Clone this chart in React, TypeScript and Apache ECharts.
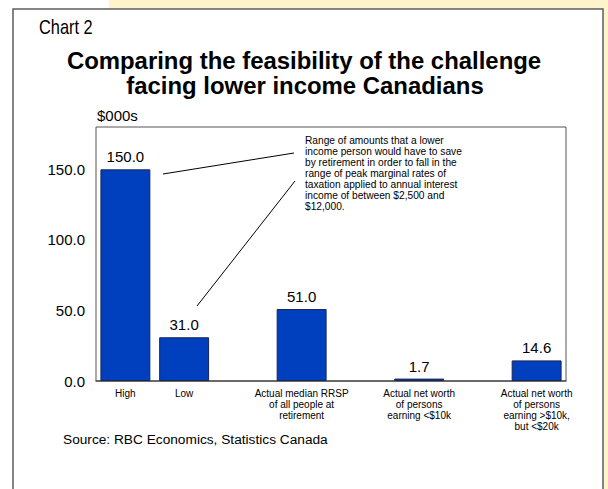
import React, { useEffect, useRef } from "react";
import * as echarts from "echarts";

const categories = [
  "High",
  "Low",
  "",
  "Actual median RRSP\nof all people at\nretirement",
  "",
  "Actual net worth\nof persons\nearning <$10k",
  "",
  "Actual net worth\nof persons\nearning >$10k,\nbut <$20k",
];
const values: (number | null)[] = [150.0, 31.0, null, 51.0, null, 1.7, null, 14.6];
const yTicks = [0, 50, 100, 150];
const chartLabel = "Chart 2";
const titleLines = ["Comparing the feasibility of the challenge", "facing lower income Canadians"];
const unitLabel = "$000s";
const noteLines = [
  "Range of amounts that a lower",
  "income person would have to save",
  "by retirement in order to fall in the",
  "range of peak marginal rates of",
  "taxation applied to annual interest",
  "income of between $2,500 and",
  "$12,000.",
];
const sourceText = "Source: RBC Economics, Statistics Canada";

const FONT = "'Liberation Sans', Arial, Helvetica, sans-serif";

export default function App() {
  const ref = useRef<HTMLDivElement>(null);
  useEffect(() => {
    if (!ref.current) return;
    const chart = echarts.init(ref.current, null, { renderer: "svg" });
    chart.setOption({
      animation: false,
      backgroundColor: "#ffffff",
      textStyle: { fontFamily: FONT },
      grid: {
        left: 96,
        right: 42,
        top: 127,
        bottom: 108,
        show: true,
        borderColor: "#555555",
        borderWidth: 1,
        backgroundColor: "rgba(0,0,0,0)",
      },
      xAxis: {
        type: "category",
        data: categories,
        axisTick: { show: false },
        axisLine: { lineStyle: { color: "#555555", width: 1.5 } },
        axisLabel: {
          interval: 0,
          fontSize: 10,
          lineHeight: 11,
          color: "#000000",
          margin: 7,
          fontFamily: FONT,
        },
      },
      yAxis: {
        type: "value",
        min: 0,
        max: 180,
        interval: 50,
        splitLine: { show: false },
        axisLine: { show: false },
        axisTick: { show: false },
        axisLabel: {
          fontSize: 15,
          color: "#000000",
          margin: 11,
          showMaxLabel: false,
          fontFamily: FONT,
          formatter: (v: number) => (yTicks.includes(v) ? v.toFixed(1) : ""),
        },
      },
      series: [
        {
          type: "bar",
          data: values,
          barCategoryGap: "15%",
          itemStyle: { color: "#0040bf", borderColor: "#1c2452", borderWidth: 1 },
          label: {
            show: true,
            position: "top",
            distance: 5,
            fontSize: 15,
            color: "#000000",
            fontFamily: FONT,
            formatter: (p: any) => (p.value == null ? "" : Number(p.value).toFixed(1)),
          },
        },
      ],
      graphic: [
        {
          type: "rect",
          z: -100,
          silent: true,
          shape: { x: 109, y: 0, width: 499, height: 489 },
          style: { fill: "#fdf4cc" },
        },
        {
          type: "rect",
          z: -90,
          silent: true,
          shape: { x: 13, y: 9, width: 590, height: 500 },
          style: { fill: "#ffffff", stroke: "#5e5e5e", lineWidth: 1.5 },
        },
        {
          type: "text",
          x: 39,
          y: 27,
          scaleX: 0.82,
          style: {
            text: chartLabel,
            fontFamily: FONT,
            fontSize: 20,
            fill: "#000000",
            verticalAlign: "middle",
            align: "left",
          },
        },
        {
          type: "text",
          x: 304,
          y: 61,
          scaleX: 1.04,
          style: {
            text: titleLines[0],
            fontFamily: FONT,
            fontSize: 23,
            fontWeight: "bold",
            fill: "#000000",
            align: "center",
            verticalAlign: "middle",
          },
        },
        {
          type: "text",
          x: 305,
          y: 86,
          scaleX: 1.04,
          style: {
            text: titleLines[1],
            fontFamily: FONT,
            fontSize: 23,
            fontWeight: "bold",
            fill: "#000000",
            align: "center",
            verticalAlign: "middle",
          },
        },
        {
          type: "text",
          x: 97,
          y: 115,
          style: {
            text: unitLabel,
            fontFamily: FONT,
            fontSize: 15,
            fill: "#000000",
            align: "left",
            verticalAlign: "middle",
          },
        },
        {
          type: "text",
          x: 305,
          y: 135.3,
          style: {
            text: noteLines.join("\n"),
            fontFamily: FONT,
            fontSize: 10.2,
            lineHeight: 10.9,
            fill: "#000000",
            align: "left",
            verticalAlign: "top",
          },
        },
        {
          type: "line",
          shape: { x1: 163, y1: 174, x2: 294, y2: 153 },
          style: { stroke: "#000000", lineWidth: 1 },
        },
        {
          type: "line",
          shape: { x1: 197, y1: 306, x2: 295, y2: 181 },
          style: { stroke: "#000000", lineWidth: 1 },
        },
        {
          type: "text",
          x: 63,
          y: 439,
          style: {
            text: sourceText,
            fontFamily: FONT,
            fontSize: 13.7,
            fill: "#000000",
            align: "left",
            verticalAlign: "middle",
          },
        },
      ],
    });
    return () => chart.dispose();
  }, []);
  return (
    <div
      ref={ref}
      style={{ position: "absolute", left: 0, top: 0, width: 608, height: 489 }}
    />
  );
}
